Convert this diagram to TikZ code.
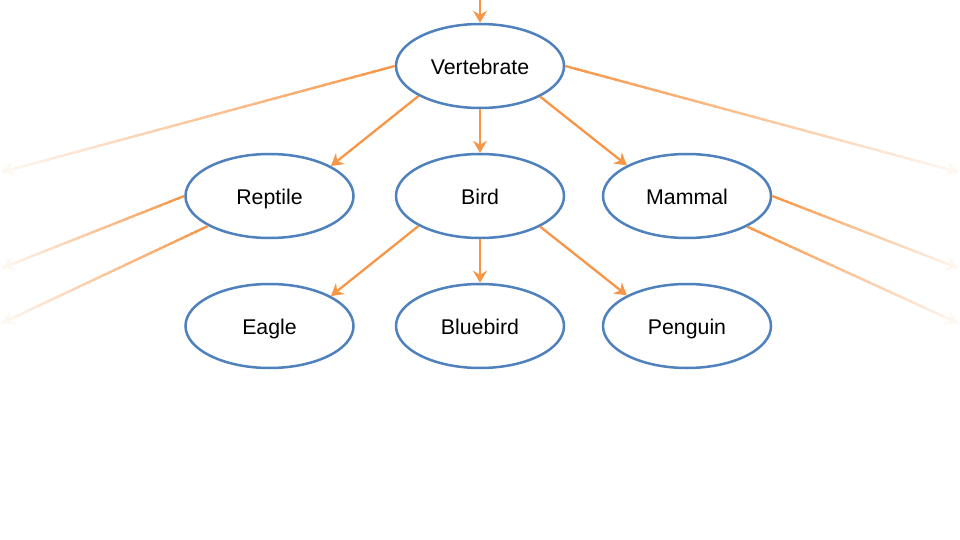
\documentclass[tikz,border=0pt]{standalone}
\usepackage{fontspec}
\setmainfont{Liberation Sans}
\usetikzlibrary{shapes.geometric,arrows.meta,calc}
\definecolor{orng}{HTML}{F79646}
\definecolor{ellblue}{HTML}{4F81BD}
\tikzset{
  cls/.style={ellipse, draw=ellblue, line width=2.5pt, fill=white,
    minimum width=168pt, minimum height=84pt, inner sep=0pt,
    text height=19.5pt, text depth=3pt,
    font=\fontsize{21.3}{25}\selectfont},
  link/.style={draw=orng, line width=2.3pt,
    -{Stealth[length=12pt,width=14pt,inset=4pt]}},
  fadeseg/.style={line width=2.3pt},
  fadetip/.style={line width=2.3pt, -{Stealth[length=12pt,width=14pt,inset=4pt]}}
}
\newcommand\fadelink[2]{%
  \foreach \i in {0,...,39}{%
    \pgfmathsetmacro\pa{100-92*\i/39}%
    \draw[fadeseg, draw=orng!\pa] ($(#1)!\i/40!(#2)$) -- ($(#1)!{min(1,(\i+1.4)/40)}!(#2)$);
  }%
  \draw[fadetip, draw=orng!8] ($(#1)!0.97!(#2)$) -- (#2);
}
\begin{document}
\begin{tikzpicture}[x=1pt,y=-1pt]
\useasboundingbox[fill=white] (0,0) rectangle (960,540);
\node[cls] (vert) at (480,66) {Vertebrate};
\node[cls] (rep) at (269.5,196) {Reptile};
\node[cls] (bird) at (480,196) {Bird};
\node[cls] (mam) at (687,196) {Mammal};
\node[cls] (eag) at (269.5,326) {Eagle};
\node[cls] (blue) at (480,326) {Bluebird};
\node[cls] (peng) at (687,326) {Penguin};
\coordinate (top) at (480,-2);
\coordinate (lv) at (2,172);
\coordinate (rv) at (958,172);
\coordinate (lr1) at (2,268);
\coordinate (lr2) at (2,323);
\coordinate (rm1) at (958,268);
\coordinate (rm2) at (958,323);
\fadelink{vert.west}{lv}
\fadelink{vert.east}{rv}
\fadelink{rep.west}{lr1}
\fadelink{rep.206.57}{lr2}
\fadelink{mam.east}{rm1}
\fadelink{mam.333.43}{rm2}
\draw[link] (top) -- (vert.north);
\draw[link] (vert.206.57) -- (rep.26.57);
\draw[link] (vert.south) -- (bird.north);
\draw[link] (vert.333.43) -- (mam.153.43);
\draw[link] (bird.206.57) -- (eag.26.57);
\draw[link] (bird.south) -- (blue.north);
\draw[link] (bird.333.43) -- (peng.153.43);
\end{tikzpicture}
\end{document}
